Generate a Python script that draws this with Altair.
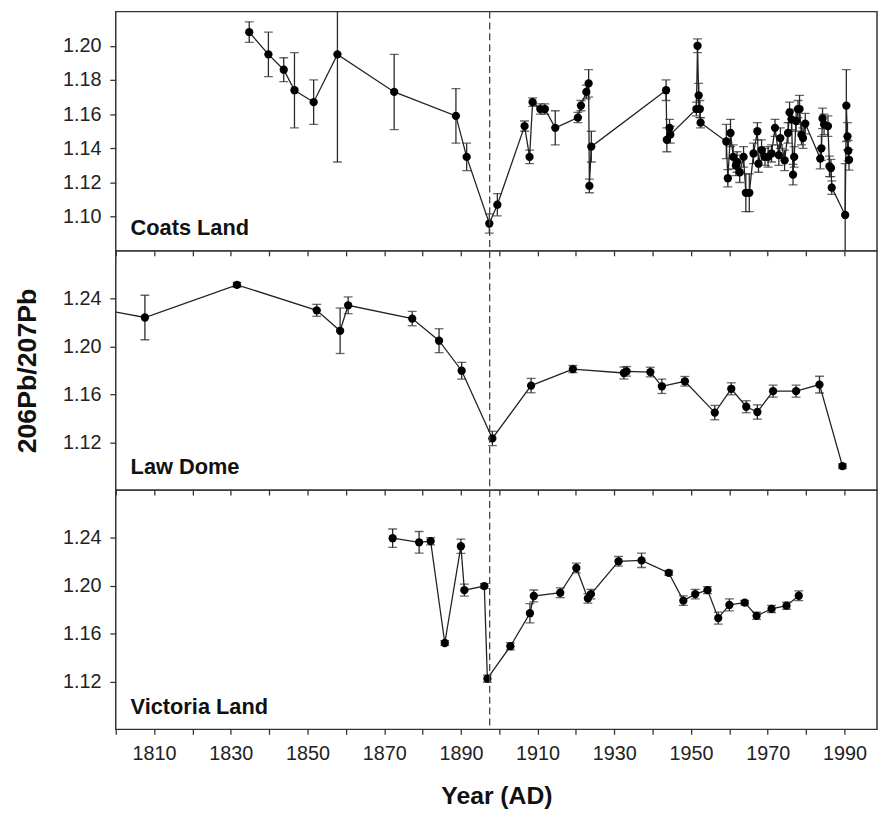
import altair as alt
import pandas as pd

# ---------------- data ----------------
coats_year = [1834.8, 1839.8, 1843.8, 1846.6, 1851.6, 1857.8, 1872.6, 1888.7, 1891.5,
              1897.4, 1899.5, 1906.6, 1907.9, 1908.7, 1910.7, 1911.9, 1914.6, 1920.5,
              1921.3, 1922.7, 1923.3, 1923.5, 1924.0, 1943.5, 1943.7, 1944.4, 1944.6,
              1951.4, 1951.7, 1952.0, 1952.3, 1952.5, 1959.2, 1959.6, 1960.3, 1961.0,
              1961.7, 1962.0, 1962.7, 1963.7, 1964.3, 1965.2, 1966.3, 1967.3, 1967.6,
              1968.4, 1969.3, 1970.1, 1971.0, 1971.9, 1972.9, 1973.3, 1974.4, 1975.3,
              1975.7, 1976.2, 1976.6, 1976.9, 1977.4, 1977.9, 1978.3, 1978.8, 1979.2,
              1979.8, 1983.7, 1984.0, 1984.3, 1984.7, 1985.7, 1986.1, 1986.5, 1986.7,
              1990.2, 1990.5, 1990.8, 1991.0, 1991.2]
coats_val = [1.208, 1.195, 1.186, 1.174, 1.167, 1.195, 1.173, 1.159, 1.135,
             1.096, 1.107, 1.153, 1.135, 1.167, 1.163, 1.163, 1.152, 1.158,
             1.165, 1.173, 1.178, 1.118, 1.141, 1.174, 1.145, 1.152, 1.148,
             1.163, 1.200, 1.171, 1.163, 1.155, 1.144, 1.1225, 1.149, 1.135,
             1.130, 1.132, 1.126, 1.135, 1.114, 1.114, 1.137, 1.150, 1.131,
             1.139, 1.135, 1.135, 1.137, 1.152, 1.136, 1.146, 1.133, 1.149,
             1.161, 1.157, 1.1246, 1.135, 1.156, 1.163, 1.163, 1.148, 1.146,
             1.1545, 1.134, 1.140, 1.1575, 1.154, 1.153, 1.1295, 1.1285, 1.117,
             1.101, 1.165, 1.147, 1.1386, 1.1333]
coats_err = [0.006, 0.013, 0.007, 0.022, 0.013, 0.063, 0.022, 0.016, 0.008,
             0.0056, 0.0065, 0.003, 0.004, 0.0025, 0.003, 0.003, 0.010, 0.003,
             0.003, 0.004, 0.008, 0.004, 0.009, 0.006, 0.007, 0.005, 0.005,
             0.004, 0.004, 0.007, 0.005, 0.003, 0.010, 0.005, 0.008, 0.007,
             0.006, 0.006, 0.006, 0.006, 0.011, 0.011, 0.006, 0.005, 0.005,
             0.006, 0.005, 0.006, 0.005, 0.005, 0.006, 0.006, 0.006, 0.006,
             0.006, 0.006, 0.006, 0.006, 0.006, 0.005, 0.008, 0.006, 0.006,
             0.006, 0.006, 0.007, 0.006, 0.006, 0.006, 0.006, 0.005, 0.004,
             0.030, 0.021, 0.008, 0.006, 0.006]

law_year = [1795.0, 1807.6, 1831.6, 1852.4, 1858.5, 1860.6, 1877.3, 1884.3, 1890.2,
            1898.2, 1908.3, 1919.2, 1932.5, 1933.2, 1939.4, 1942.4, 1948.4, 1956.2,
            1960.5, 1964.4, 1967.3, 1971.4, 1977.4, 1983.5, 1989.5]
law_val = [1.232, 1.2243, 1.2516, 1.2303, 1.2132, 1.2345, 1.2234, 1.2049, 1.1798,
           1.1232, 1.1674, 1.1812, 1.1779, 1.1793, 1.1787, 1.1668, 1.171, 1.1448,
           1.1647, 1.1497, 1.1453, 1.1627, 1.1627, 1.1682, 1.100]
law_err = [0.0, 0.0186, 0.002, 0.005, 0.019, 0.007, 0.006, 0.010, 0.007,
           0.006, 0.006, 0.003, 0.005, 0.004, 0.004, 0.006, 0.004, 0.006,
           0.005, 0.005, 0.006, 0.005, 0.005, 0.007, 0.002]

vic_year = [1872.2, 1879.1, 1882.1, 1885.8, 1890.0, 1890.9, 1896.1, 1896.9, 1902.9,
            1908.0, 1909.0, 1915.9, 1920.1, 1923.1, 1923.9, 1931.1, 1937.1, 1944.2,
            1948.0, 1951.1, 1954.3, 1957.1, 1960.0, 1964.0, 1967.1, 1971.0, 1974.9,
            1978.1]
vic_val = [1.2398, 1.2364, 1.2373, 1.1522, 1.2331, 1.1964, 1.1998, 1.1224, 1.1495,
           1.1771, 1.1915, 1.1942, 1.2149, 1.1895, 1.1931, 1.2205, 1.2213, 1.2108,
           1.1876, 1.1931, 1.1964, 1.173, 1.184, 1.1859, 1.1749, 1.1807, 1.1834,
           1.1917]
vic_err = [0.0077, 0.009, 0.003, 0.002, 0.006, 0.005, 0.002, 0.003, 0.003,
           0.008, 0.005, 0.004, 0.004, 0.004, 0.004, 0.004, 0.006, 0.002,
           0.004, 0.004, 0.003, 0.005, 0.005, 0.002, 0.003, 0.003, 0.003,
           0.004]

x_ticks = list(range(1800, 2000, 10))
coats_ticks = [1.10, 1.12, 1.14, 1.16, 1.18, 1.20]
other_ticks = [1.12, 1.16, 1.20, 1.24]
event_year = [1897.5]

FONT = "Liberation Sans"
W = 770


def frame(years, vals, errs):
    return pd.DataFrame({
        "year": years,
        "v": vals,
        "lo": [a - b for a, b in zip(vals, errs)],
        "hi": [a + b for a, b in zip(vals, errs)],
    })


def panel(df, ydom, yticks, label, height, bottom=False, ytitle=None):
    xs = alt.Scale(domain=[1800, 1998.5], nice=False, zero=False)
    ys = alt.Scale(domain=ydom, nice=False, zero=False)
    if bottom:
        xaxis = alt.Axis(values=x_ticks, format="d", tickSize=5, labelPadding=9,
                         labelExpr="(datum.value - 1810) % 20 == 0 ? datum.label : ''",
                         title="Year (AD)", titleFont=FONT, titleFontSize=25,
                         titleFontWeight="bold", titlePadding=21, titleColor="#111")
    else:
        xaxis = alt.Axis(values=x_ticks, labels=False, tickSize=5, title=None)
    if ytitle:
        yaxis = alt.Axis(values=yticks, format=".2f", tickSize=6, labelPadding=9,
                         title=ytitle, titleFont=FONT, titleFontSize=27,
                         titleFontWeight="bold", titlePadding=21, titleColor="#111")
    else:
        yaxis = alt.Axis(values=yticks, format=".2f", tickSize=6, labelPadding=9,
                         title=None)

    base = alt.Chart(df)
    x = alt.X("year:Q", scale=xs, axis=xaxis)
    bars = base.mark_rule(color="#2a2a2a", strokeWidth=1.3, clip=True).encode(
        x=x, y=alt.Y("lo:Q", scale=ys, axis=yaxis), y2="hi:Q")
    cap_lo = base.mark_tick(color="#2a2a2a", size=9, thickness=1.3, orient="horizontal",
                            clip=True).encode(x="year:Q", y="lo:Q")
    cap_hi = base.mark_tick(color="#2a2a2a", size=9, thickness=1.3, orient="horizontal",
                            clip=True).encode(x="year:Q", y="hi:Q")
    line = base.mark_line(color="#222", strokeWidth=1.3, clip=True).encode(
        x="year:Q", y="v:Q")
    pts = base.mark_circle(color="#000", size=70, opacity=1, clip=True).encode(
        x="year:Q", y="v:Q")
    dash = alt.Chart(pd.DataFrame({"year": event_year})).mark_rule(
        color="#444", strokeWidth=1.3, strokeDash=[7, 4]).encode(x="year:Q")
    txt = alt.Chart(pd.DataFrame({"t": [label]})).mark_text(
        font=FONT, fontSize=22, fontWeight="bold", color="#111", align="left",
        baseline="alphabetic").encode(text="t:N", x=alt.value(15), y=alt.value(height - 16))
    return alt.layer(bars, cap_lo, cap_hi, line, pts, dash, txt).properties(
        width=W, height=height)


c1 = panel(frame(coats_year, coats_val, coats_err), [1.08, 1.22], coats_ticks,
           "Coats Land", 242)
c2 = panel(frame(law_year, law_val, law_err), [1.08, 1.28], other_ticks,
           "Law Dome", 242, ytitle="206Pb/207Pb")
c3 = panel(frame(vic_year, vic_val, vic_err), [1.08, 1.28], other_ticks,
           "Victoria Land", 242, bottom=True)

chart = alt.vconcat(c1, c2, c3, spacing=0, bounds="flush").properties(
    padding={"left": 5, "top": -3, "right": 0, "bottom": 5}
).configure(
    background="white"
).configure_view(
    stroke="#333", strokeWidth=1.5
).configure_axis(
    grid=False, domain=False, labelFont=FONT, labelFontSize=20, labelColor="#222",
    tickColor="#333", tickWidth=1.3
)

chart.save("out.html", embed_options={"renderer": "svg", "actions": False})
